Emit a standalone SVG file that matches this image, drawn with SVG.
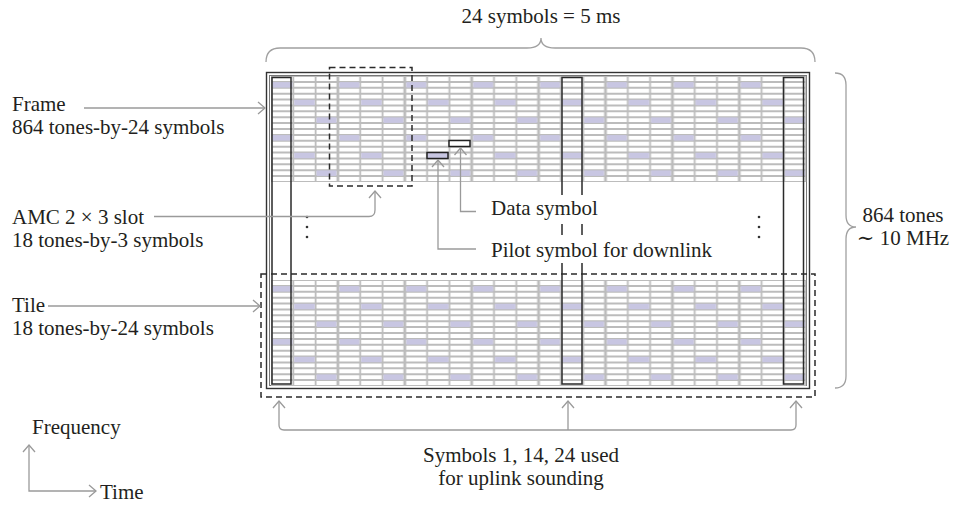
<svg xmlns="http://www.w3.org/2000/svg" width="960" height="520" viewBox="0 0 960 520">
<style>
  text { font-family: "Liberation Serif", "DejaVu Serif", serif; font-size: 21px; fill: #231f20; }
  .conn { fill: none; stroke: #9a9a9a; stroke-width: 1.3; }
  .sym { fill: none; stroke: #2a2a2a; stroke-width: 1.5; }
  .dash { fill: none; stroke: #2a2a2a; stroke-width: 1.5; stroke-dasharray: 6 4; }
  .brace { fill: none; stroke: #a0a0a0; stroke-width: 1.3; }
  .dot { fill: #333; }
  .bg { fill: #fff; }
</style>
<defs>
  <marker id="ah" markerUnits="userSpaceOnUse" markerWidth="12" markerHeight="16" viewBox="-10 -8 12 16" refX="0" refY="0" orient="auto-start-reverse">
    <path d="M-7,-6 L0,0 L-7,6" fill="none" stroke="#9a9a9a" stroke-width="1.3"/>
  </marker>
  <pattern id="grid" patternUnits="userSpaceOnUse" x="271" y="76" width="66.9" height="53">
    <rect width="66.9" height="53" fill="#bcbcbc"/>
    <g stroke="#fff" stroke-dasharray="3.9 1.989" fill="none">
      <line x1="11.4" y1="1" x2="11.4" y2="53" stroke-width="20"/>
      <line x1="33.45" y1="1" x2="33.45" y2="53" stroke-width="20.5"/>
      <line x1="55.5" y1="1" x2="55.5" y2="53" stroke-width="20"/>
    </g>
    <g fill="#c8c6e2">
      <rect x="1.4" y="6.1" width="20" height="5.5"/>
      <rect x="23.2" y="23.75" width="20.5" height="5.5"/>
      <rect x="45.5" y="41.4" width="20" height="5.5"/>
    </g>
  </pattern>
</defs>

<rect width="960" height="520" fill="#fff"/>

<g id="frame">
  <rect x="266.5" y="72.5" width="543" height="316" fill="none" stroke="#333" stroke-width="1.4"/>
  <rect x="269.5" y="75.5" width="537" height="310" fill="none" stroke="#777" stroke-width="1"/>
</g>

<g id="tile-top">
  <rect x="271" y="76" width="535.2" height="106" fill="url(#grid)"/>
</g>
<g id="tile-bottom" transform="translate(0,204)">
  <rect x="271" y="76" width="535.2" height="106" fill="url(#grid)"/>
</g>

<g id="sounding-symbols">
  <rect class="sym" x="272" y="77.5" width="19" height="306.5"/>
  <rect class="sym" x="562" y="77.5" width="20" height="306.5"/>
  <rect class="sym" x="783.5" y="77.5" width="20" height="306.5"/>
</g>

<g id="pilot-symbol">
  <rect x="427" y="152.5" width="21" height="6" fill="#c8c6e2" stroke="#222" stroke-width="1.5"/>
</g>
<g id="data-symbol">
  <rect x="449" y="140.5" width="21" height="6" fill="#fff" stroke="#222" stroke-width="1.5"/>
</g>

<g id="amc-slot">
  <rect class="dash" x="329.5" y="67.5" width="82.5" height="118.5"/>
</g>
<g id="tile-box">
  <rect class="dash" x="261" y="274" width="554" height="123"/>
</g>

<g id="ellipses">
  <circle class="dot" cx="307" cy="217" r="1.3"/>
  <circle class="dot" cx="307" cy="227" r="1.3"/>
  <circle class="dot" cx="307" cy="237" r="1.3"/>
  <circle class="dot" cx="759" cy="217" r="1.3"/>
  <circle class="dot" cx="759" cy="227" r="1.3"/>
  <circle class="dot" cx="759" cy="237" r="1.3"/>
</g>

<g id="connectors">
  <path class="conn" d="M84,108 H265" marker-end="url(#ah)"/>
  <path class="conn" d="M154,216.5 H369 Q375,216.5 375,210 V191" marker-end="url(#ah)"/>
  <path class="conn" d="M48,306 H260" marker-end="url(#ah)"/>
  <path class="conn" d="M476,211.5 H460.5 V148" marker-end="url(#ah)"/>
  <path class="conn" d="M476,249 H438 V160" marker-end="url(#ah)"/>
  <path class="conn" d="M279,401 V425 Q279,430 284,430 H791 Q796,430 796,425 V401" marker-start="url(#ah)" marker-end="url(#ah)"/>
  <path class="conn" d="M568,430 V401" marker-end="url(#ah)"/>
  <path class="conn" d="M29,445 V491 H96" marker-start="url(#ah)" marker-end="url(#ah)"/>
  <path class="brace" d="M266,62 Q266,48 280,48 H527 Q541,48 541,38 Q541,48 555,48 H801 Q815,48 815,62"/>
  <path class="brace" d="M835,73 Q846,73 846,85 V215 Q846,227 856,227 Q846,227 846,239 V376 Q846,388 835,388"/>
</g>

<g id="label-top"><text x="541" y="23" text-anchor="middle">24 symbols = 5 ms</text></g>
<g id="label-frame">
  <text x="12" y="111">Frame</text>
  <text x="12" y="134">864 tones-by-24 symbols</text>
</g>
<g id="label-amc">
  <text x="12" y="224">AMC 2 × 3 slot</text>
  <text x="12" y="247">18 tones-by-3 symbols</text>
</g>
<g id="label-tile">
  <text x="12" y="312">Tile</text>
  <text x="12" y="335">18 tones-by-24 symbols</text>
</g>
<g id="label-data">
  <rect class="bg" x="484" y="195" width="118" height="29"/>
  <text x="491" y="215">Data symbol</text>
</g>
<g id="label-pilot">
  <rect class="bg" x="484" y="235" width="234" height="28"/>
  <text x="491" y="257">Pilot symbol for downlink</text>
</g>
<g id="label-tones">
  <text x="903" y="222" text-anchor="middle">864 tones</text>
  <text x="903" y="245" text-anchor="middle">∼ 10 MHz</text>
</g>
<g id="label-sounding">
  <text x="521" y="462" text-anchor="middle">Symbols 1, 14, 24 used</text>
  <text x="521" y="485" text-anchor="middle">for uplink sounding</text>
</g>
<g id="label-axes">
  <text x="32" y="434">Frequency</text>
  <text x="100" y="499">Time</text>
</g>
</svg>
